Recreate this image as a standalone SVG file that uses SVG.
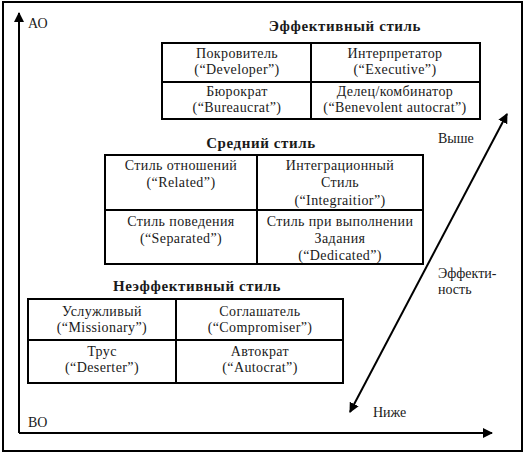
<svg xmlns="http://www.w3.org/2000/svg" width="527" height="454" viewBox="0 0 527 454">
<style>
text{font-family:Tinos,"Liberation Serif","Noto Serif","DejaVu Serif","Times New Roman",Times,serif;fill:#1a1a1a;}
.t{font-size:14px;text-anchor:middle;letter-spacing:0.4px;}
.h{font-size:15px;font-weight:bold;text-anchor:middle;letter-spacing:0.6px;}
.l{font-size:14px;}
.box{fill:none;stroke:#000;stroke-width:2;}
.ln{stroke:#000;stroke-width:2;fill:none;}
</style>
<defs>
<marker id="ah" viewBox="0 0 10 10" refX="9" refY="5" markerWidth="10" markerHeight="10" markerUnits="userSpaceOnUse" orient="auto-start-reverse">
<path d="M0,0 L10,5 L0,10 z" fill="#000"/>
</marker>
</defs>
<rect x="3" y="2" width="519" height="449" fill="#fff" stroke="#000" stroke-width="2"/>
<g id="connectors">
<line class="ln" x1="19" y1="433" x2="19" y2="13" marker-end="url(#ah)"/>
<line class="ln" x1="19" y1="433" x2="492" y2="433" marker-end="url(#ah)"/>
<line class="ln" x1="350" y1="412" x2="507" y2="114" marker-start="url(#ah)" marker-end="url(#ah)"/>
</g>
<g id="axis-labels">
<text class="l" x="28" y="28">АО</text>
<text class="l" x="28" y="427">ВО</text>
<text class="l" x="438" y="143">Выше</text>
<text class="l" x="438" y="278">Эффекти-</text>
<text class="l" x="438" y="294">ность</text>
<text class="l" x="373" y="417">Ниже</text>
</g>
<g id="effective">
<text class="h" x="345" y="31">Эффективный стиль</text>
<rect class="box" x="162" y="43" width="318" height="76"/>
<line class="ln" x1="311" y1="43" x2="311" y2="119"/>
<line class="ln" x1="162" y1="82" x2="480" y2="82"/>
<text class="t" x="237" y="58">Покровитель</text>
<text class="t" x="237" y="74">(“Developer”)</text>
<text class="t" x="395" y="58">Интерпретатор</text>
<text class="t" x="395" y="74">(“Executive”)</text>
<text class="t" x="237" y="96">Бюрократ</text>
<text class="t" x="237" y="112">(“Bureaucrat”)</text>
<text class="t" x="395" y="96">Делец/комбинатор</text>
<text class="t" x="395" y="112">(“Benevolent autocrat”)</text>
</g>
<g id="medium">
<text class="h" x="261" y="148">Средний стиль</text>
<rect class="box" x="105" y="155" width="318" height="109"/>
<line class="ln" x1="257" y1="155" x2="257" y2="264"/>
<line class="ln" x1="105" y1="210" x2="423" y2="210"/>
<text class="t" x="181" y="170">Стиль отношений</text>
<text class="t" x="181" y="187">(“Related”)</text>
<text class="t" x="340" y="170">Интеграционный</text>
<text class="t" x="340" y="187">Стиль</text>
<text class="t" x="340" y="205">(“Integraitior”)</text>
<text class="t" x="181" y="226">Стиль поведения</text>
<text class="t" x="181" y="243">(“Separated”)</text>
<text class="t" x="340" y="226">Стиль при выполнении</text>
<text class="t" x="340" y="243">Задания</text>
<text class="t" x="340" y="260">(“Dedicated”)</text>
</g>
<g id="ineffective">
<text class="h" x="197" y="291">Неэффективный стиль</text>
<rect class="box" x="28" y="299" width="315" height="84"/>
<line class="ln" x1="176" y1="299" x2="176" y2="383"/>
<line class="ln" x1="28" y1="340" x2="343" y2="340"/>
<text class="t" x="102" y="316">Услужливый</text>
<text class="t" x="102" y="332">(“Missionary”)</text>
<text class="t" x="260" y="316">Соглашатель</text>
<text class="t" x="260" y="332">(“Compromiser”)</text>
<text class="t" x="102" y="356">Трус</text>
<text class="t" x="102" y="372">(“Deserter”)</text>
<text class="t" x="260" y="356">Автократ</text>
<text class="t" x="260" y="372">(“Autocrat”)</text>
</g>
</svg>
